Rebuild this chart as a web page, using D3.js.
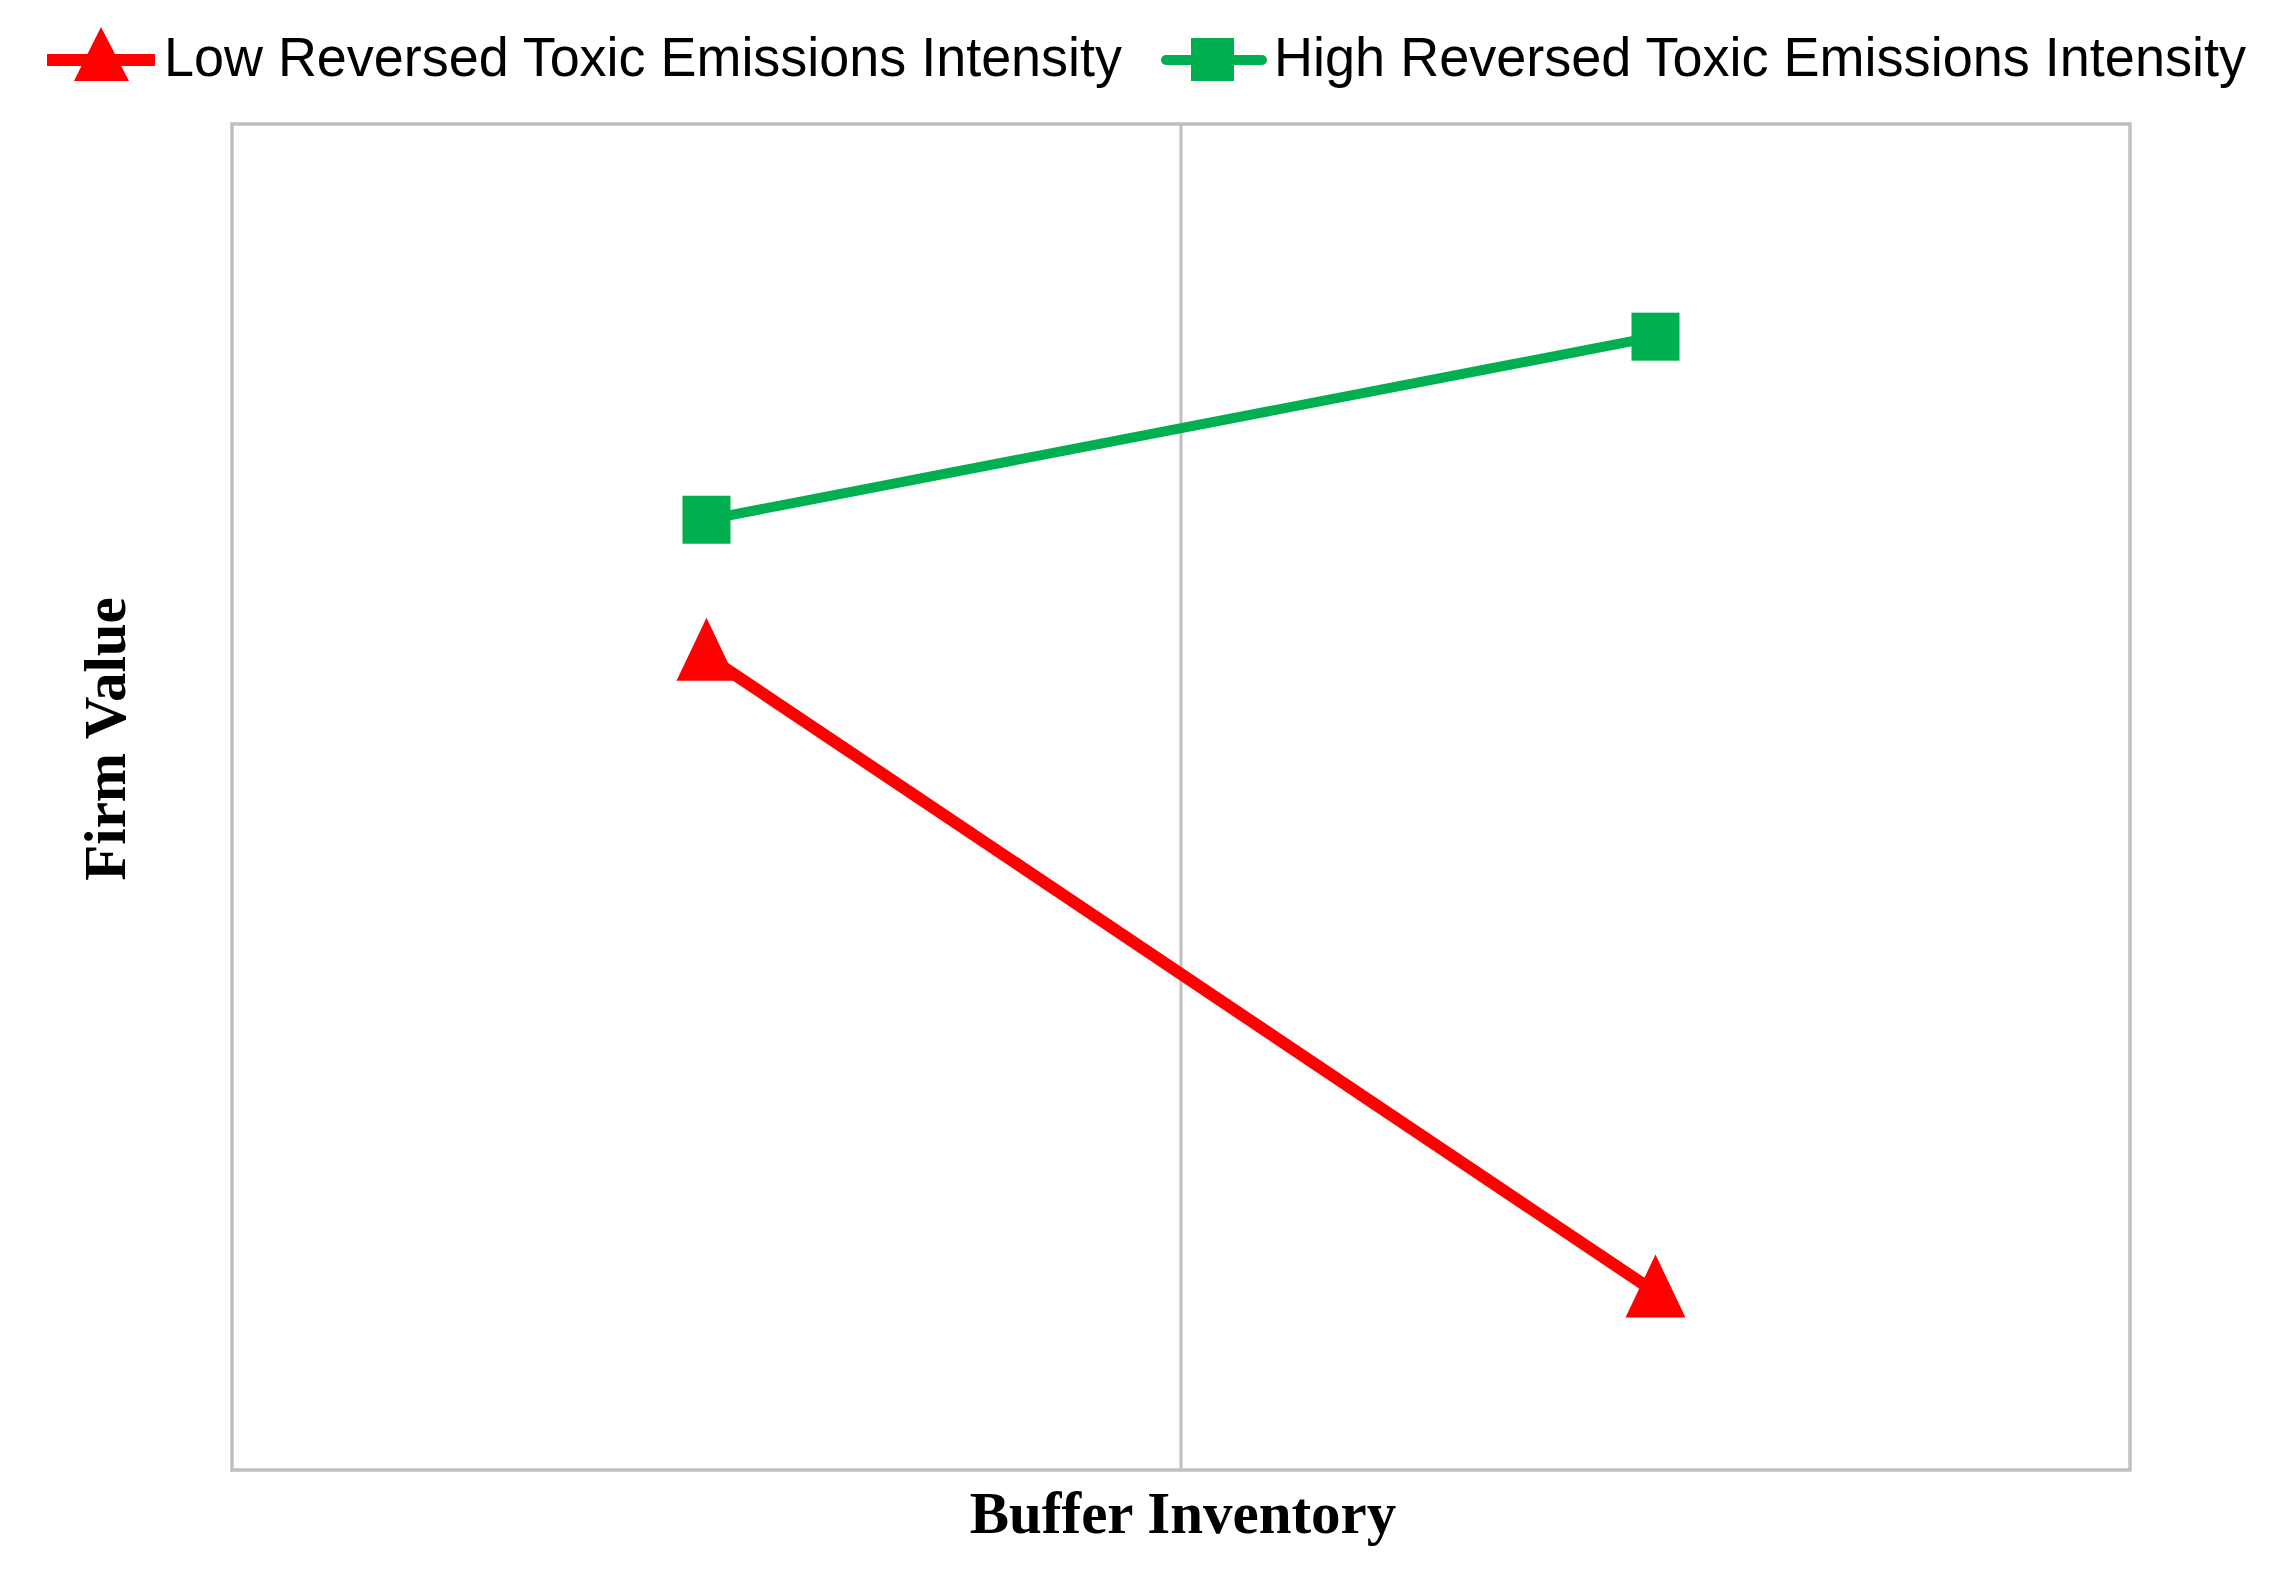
<!DOCTYPE html>
<html>
<head>
<meta charset="utf-8">
<script src="https://cdn.jsdelivr.net/npm/d3@7"></script>
<style>
  html, body { margin: 0; padding: 0; background: #fff; }
  svg { display: block; }
</style>
</head>
<body>
<script>
// ---- data ----
const categories = ["Low Buffer Inventory", "High Buffer Inventory"];
const xPositions = [1, 3];               // category positions on the x axis (axis crosses at 2)
const lowToxic  = [0.605, 0.132];        // Low Reversed Toxic Emissions Intensity
const highToxic = [0.706, 0.842];        // High Reversed Toxic Emissions Intensity
const seriesNames = ["Low Reversed Toxic Emissions Intensity", "High Reversed Toxic Emissions Intensity"];
const xTitle = "Buffer Inventory";
const yTitle = "Firm Value";

const W = 2276, H = 1572;
const plot = { left: 232, right: 2130, top: 124, bottom: 1470 };

const svg = d3.select("body").append("svg").attr("width", W).attr("height", H);

const x = d3.scaleLinear().domain([0, 4]).range([plot.left, plot.right]);
const y = d3.scaleLinear().domain([0, 1]).range([plot.bottom, plot.top]);

const gray = "#BFBFBF";
const red = "#FF0000";
const green = "#00B050";

// plot border
svg.append("rect")
  .attr("x", plot.left).attr("y", plot.top)
  .attr("width", plot.right - plot.left).attr("height", plot.bottom - plot.top)
  .attr("fill", "none").attr("stroke", gray).attr("stroke-width", 3.5);

// vertical axis line at crossing
svg.append("line")
  .attr("x1", x(2)).attr("x2", x(2))
  .attr("y1", plot.top).attr("y2", plot.bottom)
  .attr("stroke", gray).attr("stroke-width", 3);

const line = d3.line().x((d, i) => x(xPositions[i])).y(d => y(d));

// green series
svg.append("path").datum(highToxic)
  .attr("d", line).attr("fill", "none").attr("stroke", green).attr("stroke-width", 10);
svg.selectAll(".sq").data(highToxic).enter().append("rect")
  .attr("x", (d, i) => x(xPositions[i]) - 24)
  .attr("y", d => y(d) - 24)
  .attr("width", 48).attr("height", 48).attr("fill", green);

// red series
svg.append("path").datum(lowToxic)
  .attr("d", line).attr("fill", "none").attr("stroke", red).attr("stroke-width", 12);
const tri = (cx, cy, w, h) => {
  return `M${cx},${cy - h * 0.6}L${cx + w / 2},${cy + h * 0.4}L${cx - w / 2},${cy + h * 0.4}Z`;
};
svg.selectAll(".tri").data(lowToxic).enter().append("path")
  .attr("d", (d, i) => tri(x(xPositions[i]), y(d), 60, 63))
  .attr("fill", red);

// axis titles
svg.append("text")
  .attr("x", x(2) + 2).attr("y", 1533)
  .attr("text-anchor", "middle")
  .attr("font-family", "'Liberation Serif', 'Times New Roman', serif")
  .attr("font-weight", "bold").attr("font-size", 59)
  .text(xTitle);

svg.append("text")
  .attr("transform", "translate(125,739) rotate(-90)")
  .attr("text-anchor", "middle")
  .attr("font-family", "'Liberation Serif', 'Times New Roman', serif")
  .attr("font-weight", "bold").attr("font-size", 59)
  .text(yTitle);

// legend
const legend = svg.append("g");
legend.append("line").attr("x1", 47).attr("x2", 155).attr("y1", 60).attr("y2", 60)
  .attr("stroke", red).attr("stroke-width", 12);
legend.append("path").attr("d", `M101,27L129,81L74,81Z`).attr("fill", red);
legend.append("text")
  .attr("x", 164).attr("y", 76)
  .attr("font-family", "'Liberation Sans', Arial, sans-serif").attr("font-size", 55)
  .attr("textLength", 958).attr("lengthAdjust", "spacingAndGlyphs")
  .text(seriesNames[0]);
legend.append("line").attr("x1", 1166).attr("x2", 1262).attr("y1", 60).attr("y2", 60)
  .attr("stroke", green).attr("stroke-width", 10).attr("stroke-linecap", "round");
legend.append("rect").attr("x", 1191).attr("y", 38).attr("width", 43).attr("height", 43).attr("fill", green);
legend.append("text")
  .attr("x", 1274).attr("y", 76)
  .attr("font-family", "'Liberation Sans', Arial, sans-serif").attr("font-size", 55)
  .attr("textLength", 972).attr("lengthAdjust", "spacingAndGlyphs")
  .text(seriesNames[1]);
</script>
</body>
</html>
